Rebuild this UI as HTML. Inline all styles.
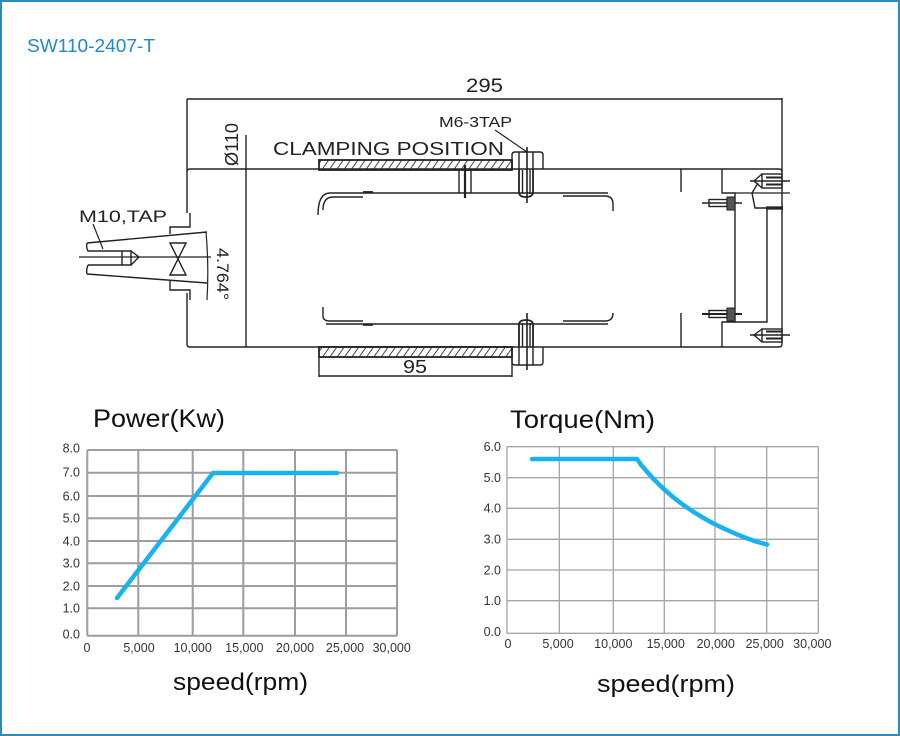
<!DOCTYPE html>
<html><head><meta charset="utf-8">
<style>
html,body{margin:0;padding:0;background:#fff;}
svg{display:block;}
</style></head><body>
<svg width="900" height="736" viewBox="0 0 900 736" xmlns="http://www.w3.org/2000/svg" font-family="'Liberation Sans', Arial, sans-serif">
<defs>
<pattern id="hatch" patternUnits="userSpaceOnUse" width="6" height="10" patternTransform="rotate(35)">
<line x1="1" y1="0" x2="1" y2="10" stroke="#333" stroke-width="0.9"/>
</pattern>
</defs>
<rect x="1" y="1" width="898" height="734" fill="#fff" stroke="#2a8ac6" stroke-width="2"/>
<text x="27" y="52" font-size="18" fill="#1e88d0" textLength="128" lengthAdjust="spacingAndGlyphs">SW110-2407-T</text>

<!-- ===== Drawing ===== -->
<g stroke="#222" stroke-width="1.4" fill="none" stroke-linecap="butt">
  <line x1="187" y1="99" x2="782" y2="99"/>
  <path d="M187,99 L187,213"/>
  <path d="M187,293 L187,344 Q187,347 190,347"/>
  <path d="M187,172 Q187,169 190,169 L779,169 Q782,169 782,172"/>
  <path d="M190,347 L779,347 Q782,347 782,344 L782,98"/>
  <line x1="246" y1="135" x2="246" y2="347"/>

  <!-- left tool holder -->
  <path d="M87,243 L207,232"/>
  <path d="M87,274 L207,283"/>
  <path d="M87,243 Q86,247 88,251 L122,251"/>
  <path d="M88,265 L122,265 M88,265 Q86,270 87,274"/>
  <path d="M122,251 L122,265 M122,251 L131,251 L131,265 L122,265"/>
  <path d="M131,251 L139,257 L131,265"/>
  <path d="M170,234 L170,227 L190,227 L190,213"/>
  <path d="M170,281 L170,290 L190,290 L190,300"/>
  <path d="M170,243 L186,243 L170,275 L186,275 Z"/>
  <line x1="79" y1="257" x2="211" y2="257" stroke-width="1.2"/>
  <path d="M206,232 Q209,266 207,300" stroke-width="1.2"/>
  <line x1="93" y1="224" x2="103" y2="249" stroke-width="1.2"/>

  <!-- clamping bars -->
  <rect x="319" y="160" width="193" height="10" fill="url(#hatch)" stroke-width="1.8"/>
  <rect x="319" y="347" width="193" height="10" fill="url(#hatch)" stroke-width="1.8"/>

  <!-- 95 dim -->
  <line x1="319" y1="357" x2="319" y2="377"/>
  <line x1="512" y1="357" x2="512" y2="377"/>
  <line x1="319" y1="376" x2="512" y2="376"/>

  <!-- inner body lines -->
  <path d="M318,215 Q318,193 330,193 L608,193"/>
  <path d="M323,210 Q323,197 333,197 L363,197"/>
  <path d="M563,196 L605,196 Q613,196 613,204 L613,211"/>
  <path d="M363,192.3 L373,192.3" stroke-width="2.4"/>
  <path d="M323,307 L323,316 Q323,321 330,321 L363,321"/>
  <path d="M326,324 L608,324"/>
  <path d="M363,324.6 L373,324.6" stroke-width="2.4"/>
  <path d="M563,321 L605,321 Q613,321 613,313"/>

  <!-- pin -->
  <line x1="459" y1="170" x2="459" y2="193"/>
  <line x1="471" y1="170" x2="471" y2="193"/>
  <line x1="465" y1="165" x2="465" y2="198" stroke-width="2.2"/>

  <!-- top bolt -->
  <path d="M512,169 L512,155 Q512,152 515,152 L540,152 Q543,152 543,155 L543,169"/>
  <line x1="519" y1="152" x2="519" y2="169"/>
  <line x1="533" y1="152" x2="533" y2="169"/>
  <path d="M519,169 L519,192 Q519,197 526,197 Q533,197 533,192 L533,169" stroke-width="1.8"/>
  <line x1="522.5" y1="170" x2="522.5" y2="194"/>
  <line x1="530" y1="170" x2="530" y2="194"/>
  <line x1="527" y1="147" x2="527" y2="203" stroke-width="1.6"/>
  <line x1="495" y1="130" x2="527" y2="152" stroke-width="1.2"/>

  <!-- bottom bolt -->
  <path d="M512,347 L512,362 Q512,365 515,365 L540,365 Q543,365 543,362 L543,347"/>
  <line x1="519" y1="347" x2="519" y2="365"/>
  <line x1="533" y1="347" x2="533" y2="365"/>
  <path d="M519,347 L519,325 Q519,320 526,320 Q533,320 533,325 L533,347" stroke-width="1.8"/>
  <line x1="522.5" y1="323" x2="522.5" y2="347"/>
  <line x1="530" y1="323" x2="530" y2="347"/>
  <line x1="527" y1="313" x2="527" y2="370" stroke-width="1.6"/>

  <!-- right section -->
  <line x1="681" y1="169" x2="681" y2="192"/>
  <line x1="681" y1="313" x2="681" y2="347"/>
  <path d="M722,169 L722,193 L735,193 L735,322 L722,322 L722,347"/>
  <path d="M735,322 L767,322 L767,208"/>
  <line x1="735" y1="193" x2="790" y2="193" stroke-width="1.2"/>
  <line x1="766" y1="208" x2="783" y2="208" stroke-width="3.2"/>
  <path d="M758,183 L752,193 L755,208 L767,208"/>

  <line x1="750" y1="181" x2="790" y2="181" stroke-width="1.6"/>
  <rect x="762" y="174" width="20" height="14"/>
  <line x1="766" y1="177.5" x2="782" y2="177.5" stroke-width="2"/>
  <line x1="766" y1="184.5" x2="782" y2="184.5" stroke-width="2"/>
  <path d="M762,174 L754,181 L762,188"/>
  <line x1="750" y1="335" x2="790" y2="335" stroke-width="1.6"/>
  <rect x="762" y="329" width="20" height="13"/>
  <line x1="766" y1="331.5" x2="782" y2="331.5" stroke-width="2"/>
  <line x1="766" y1="338.5" x2="782" y2="338.5" stroke-width="2"/>
  <path d="M762,329 L754,335 L762,342"/>

  <line x1="702" y1="203" x2="742" y2="203" stroke-width="1.6"/>
  <rect x="709" y="199.5" width="18" height="7"/>
  <rect x="727" y="197" width="8" height="13" fill="#555" stroke-width="1"/>
  <line x1="702" y1="314" x2="742" y2="314" stroke-width="2"/>
  <rect x="709" y="310.5" width="18" height="7"/>
  <rect x="727" y="308" width="8" height="13" fill="#555" stroke-width="1"/>
</g>

<g fill="#222">
  <text x="466" y="92" font-size="19" textLength="37" lengthAdjust="spacingAndGlyphs">295</text>
  <text x="403" y="373" font-size="18" textLength="24" lengthAdjust="spacingAndGlyphs">95</text>
  <text x="439" y="127" font-size="14.5" textLength="73" lengthAdjust="spacingAndGlyphs">M6-3TAP</text>
  <text x="273" y="155" font-size="18.5" textLength="231" lengthAdjust="spacingAndGlyphs">CLAMPING POSITION</text>
  <text x="79" y="222" font-size="16.5" textLength="88" lengthAdjust="spacingAndGlyphs">M10,TAP</text>
  <text transform="translate(238,166) rotate(-90)" font-size="18" textLength="43" lengthAdjust="spacingAndGlyphs">Ø110</text>
  <text transform="translate(217,248) rotate(90)" font-size="17" textLength="52" lengthAdjust="spacingAndGlyphs">4.764°</text>
</g>

<!-- ===== Power chart ===== -->
<g stroke="#9c9ca2" stroke-width="2" fill="none">
  <line x1="87.3" y1="450" x2="87.3" y2="635.7"/>
  <line x1="138.3" y1="450" x2="138.3" y2="635.7"/>
  <line x1="192.7" y1="450" x2="192.7" y2="635.7"/>
  <line x1="243.3" y1="450" x2="243.3" y2="635.7"/>
  <line x1="295" y1="450" x2="295" y2="635.7"/>
  <line x1="346" y1="450" x2="346" y2="635.7"/>
  <line x1="397" y1="450" x2="397" y2="635.7"/>
  <line x1="87.3" y1="450" x2="397" y2="450"/>
  <line x1="87.3" y1="472.7" x2="397" y2="472.7"/>
  <line x1="87.3" y1="496" x2="397" y2="496"/>
  <line x1="87.3" y1="518.3" x2="397" y2="518.3"/>
  <line x1="87.3" y1="541" x2="397" y2="541"/>
  <line x1="87.3" y1="563.3" x2="397" y2="563.3"/>
  <line x1="87.3" y1="586" x2="397" y2="586"/>
  <line x1="87.3" y1="608.3" x2="397" y2="608.3"/>
  <line x1="87.3" y1="635.7" x2="397" y2="635.7"/>
</g>
<polyline points="117,598 213,473 337,473" fill="none" stroke="#17b2ef" stroke-width="4.5" stroke-linecap="round" stroke-linejoin="round"/>
<g font-size="12.5" fill="#333" text-anchor="end">
  <text x="80" y="452.5">8.0</text>
  <text x="80" y="476.5">7.0</text>
  <text x="80" y="500.3">6.0</text>
  <text x="80" y="522.5">5.0</text>
  <text x="80" y="545.3">4.0</text>
  <text x="80" y="567.5">3.0</text>
  <text x="80" y="590.3">2.0</text>
  <text x="80" y="612.5">1.0</text>
  <text x="80" y="638.5">0.0</text>
</g>
<g font-size="12.5" fill="#333" text-anchor="middle">
  <text x="87" y="652">0</text>
  <text x="139" y="652">5,000</text>
  <text x="192.7" y="652">10,000</text>
  <text x="244.3" y="652">15,000</text>
  <text x="295" y="652">20,000</text>
  <text x="345" y="652">25,000</text>
  <text x="391.7" y="652">30,000</text>
</g>
<text x="93" y="427" font-size="25" fill="#111" textLength="132" lengthAdjust="spacingAndGlyphs">Power(Kw)</text>
<text x="173" y="690" font-size="24" fill="#111" textLength="135" lengthAdjust="spacingAndGlyphs">speed(rpm)</text>

<!-- ===== Torque chart ===== -->
<g stroke="#a4a4a8" stroke-width="1.3" fill="none">
  <line x1="507" y1="446.7" x2="507" y2="633.3"/>
  <line x1="559.3" y1="446.7" x2="559.3" y2="633.3"/>
  <line x1="613.3" y1="446.7" x2="613.3" y2="633.3"/>
  <line x1="664.3" y1="446.7" x2="664.3" y2="633.3"/>
  <line x1="715" y1="446.7" x2="715" y2="633.3"/>
  <line x1="766.7" y1="446.7" x2="766.7" y2="633.3"/>
  <line x1="818.3" y1="446.7" x2="818.3" y2="633.3"/>
  <line x1="507" y1="446.7" x2="818.3" y2="446.7"/>
  <line x1="507" y1="477.7" x2="818.3" y2="477.7"/>
  <line x1="507" y1="508.3" x2="818.3" y2="508.3"/>
  <line x1="507" y1="539.3" x2="818.3" y2="539.3"/>
  <line x1="507" y1="570" x2="818.3" y2="570"/>
  <line x1="507" y1="600.7" x2="818.3" y2="600.7"/>
  <line x1="507" y1="633.3" x2="818.3" y2="633.3"/>
</g>
<polyline points="532,459 637,459 641.8,465.8 652.2,477.6 662.6,488 672.9,497 683.3,505 693.7,512 704,518.3 714.4,524 724.8,529 735.1,533.6 745.5,537.8 755.9,541.5 767,544.5" fill="none" stroke="#17b2ef" stroke-width="4.5" stroke-linecap="round" stroke-linejoin="round"/>
<g font-size="12.5" fill="#333" text-anchor="end">
  <text x="501" y="451">6.0</text>
  <text x="501" y="482">5.0</text>
  <text x="501" y="512.6">4.0</text>
  <text x="501" y="543.6">3.0</text>
  <text x="501" y="574.3">2.0</text>
  <text x="501" y="605">1.0</text>
  <text x="501" y="636">0.0</text>
</g>
<g font-size="12.5" fill="#333" text-anchor="middle">
  <text x="508" y="648">0</text>
  <text x="558" y="648">5,000</text>
  <text x="613.3" y="648">10,000</text>
  <text x="665.7" y="648">15,000</text>
  <text x="715.7" y="648">20,000</text>
  <text x="764.7" y="648">25,000</text>
  <text x="812.3" y="648">30,000</text>
</g>
<text x="510" y="428" font-size="25" fill="#111" textLength="145" lengthAdjust="spacingAndGlyphs">Torque(Nm)</text>
<text x="597" y="692" font-size="24" fill="#111" textLength="138" lengthAdjust="spacingAndGlyphs">speed(rpm)</text>
</svg>
</body></html>
